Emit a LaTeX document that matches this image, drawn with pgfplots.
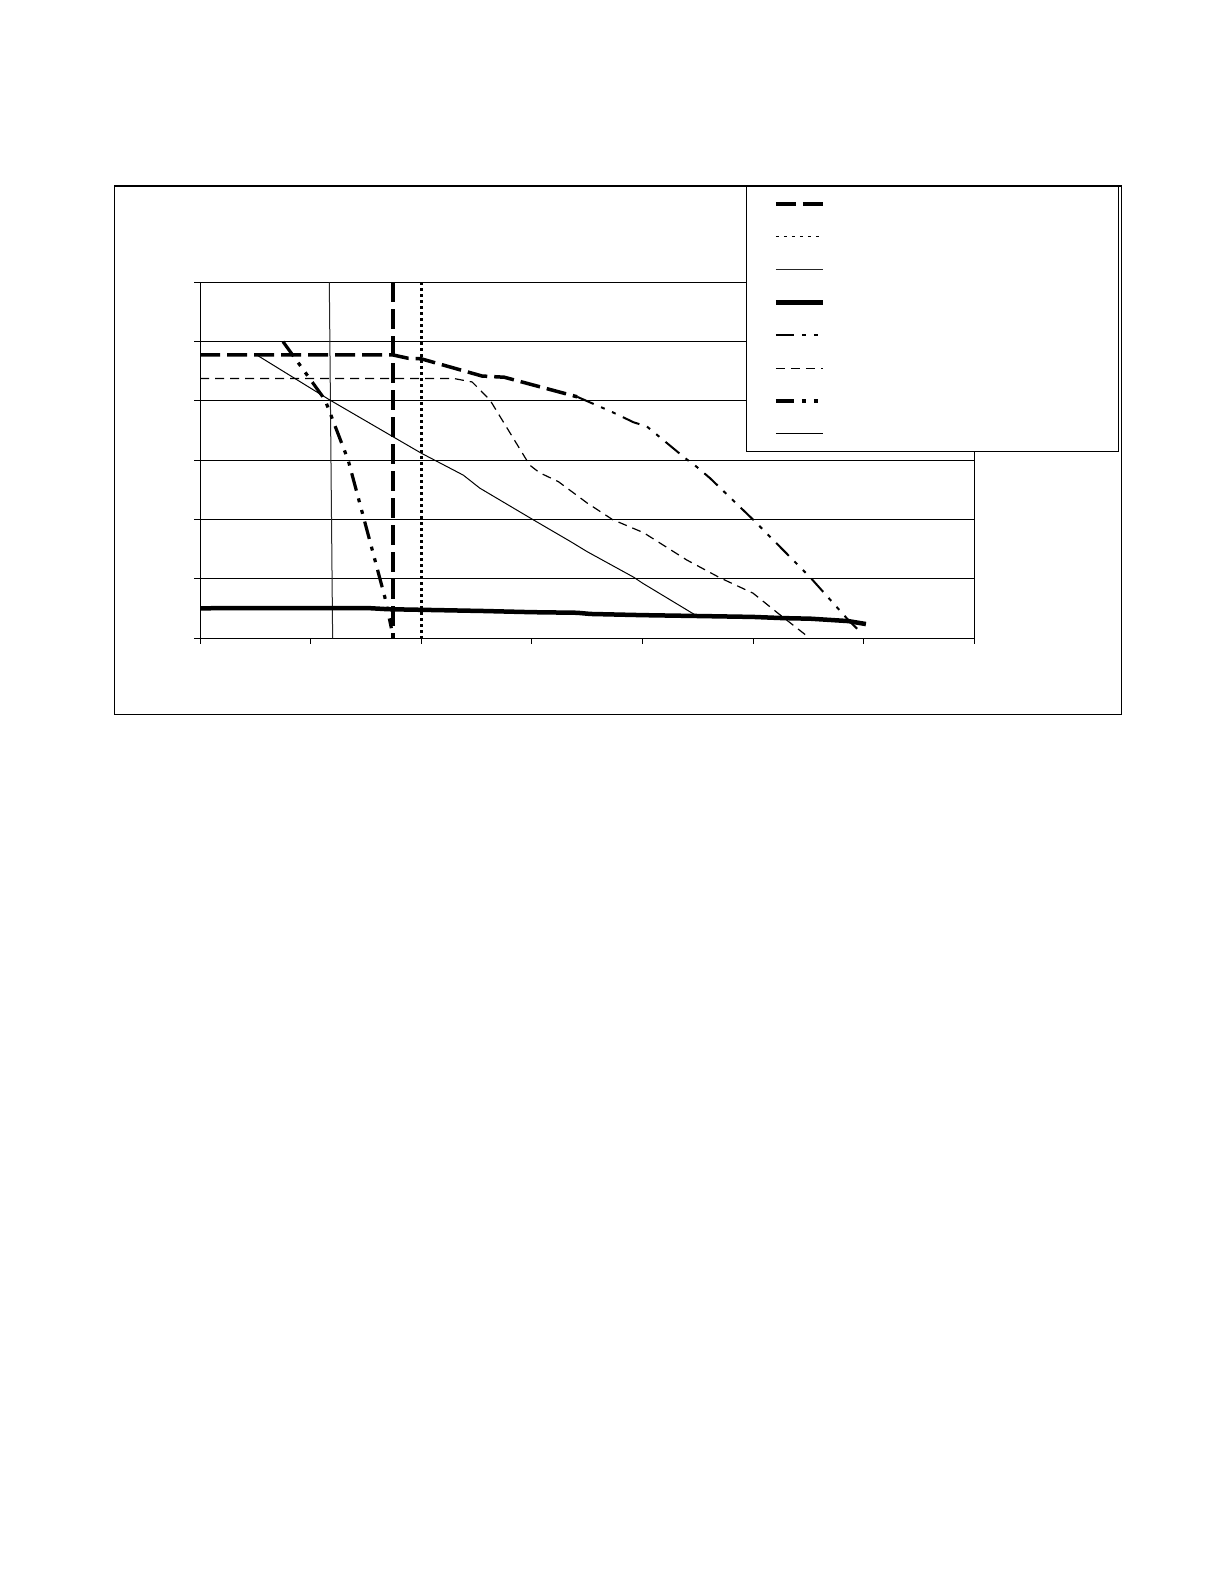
\documentclass[border=0pt]{standalone}
\usepackage{pgfplots}
\pgfplotsset{compat=1.18}

\tikzset{
  heavydash/.style={line width=1.75bp, dash pattern=on 10bp off 3.5bp},
  dashdotdot/.style={dash pattern=on 9bp off 4bp on 2bp off 4bp on 2bp off 4bp},
}

\begin{document}
\begin{tikzpicture}
\path[use as bounding box] (0,0) rectangle (612bp,792bp);
% chart frame
\draw[line width=0.6bp] (57.15bp,434.85bp) rectangle (560.85bp,699bp);

\begin{axis}[
  at={(100bp,472.85bp)}, anchor=south west,
  scale only axis,
  width=387.15bp, height=178bp,
  xmin=0, xmax=7, ymin=0, ymax=6,
  xtick={0,...,7}, ytick={0,...,6},
  xticklabels={}, yticklabels={},
  tick align=outside, tick pos=left,
  major tick length=2.8bp,
  every tick/.style={black, line width=0.5bp},
  axis line style={line width=0.5bp},
  ymajorgrids,
  grid style={black, line width=0.5bp},
  legend image code/.code={\draw[#1] (0bp,0bp) -- (23.5bp,0bp);},
  legend style={
    at={(0.7048,1.2705)}, anchor=north west,
    draw=black, line width=0.6bp, fill=white,
    inner xsep=13.6bp, inner ysep=0.6bp,
    row sep=0pt, column sep=0pt,
    nodes={text width=133bp, minimum height=16.4bp, inner sep=0pt},
  },
  legend cell align=left,
]

% 1: heavy long dash, vertical
\addplot[black, heavydash] coordinates {(1.745,6) (1.745,0)};
\addlegendentry{\mbox{}}

% 2: dotted, vertical
\addplot[black, line width=1.5bp, dash pattern=on 1.5bp off 1.5bp,
  legend image post style={line width=0.5bp, dash pattern=on 1.5bp off 2.5bp}]
  coordinates {(2.0,6) (2.0,0)};
\addlegendentry{\mbox{}}

% 3: thin solid, vertical
\addplot[black!85, line width=0.5bp] coordinates {(1.169,6) (1.199,0)};
\addlegendentry{\mbox{}}

% 4: thick solid baseline
\addplot[black, line width=2.25bp] coordinates {
  (0,0.506) (1.51,0.51) (1.70,0.49) (2.0,0.48) (2.56,0.46) (3.0,0.44)
  (3.41,0.43) (3.53,0.41) (4.0,0.39) (4.48,0.376) (5.0,0.36) (5.27,0.34)
  (5.52,0.33) (5.86,0.29) (6.02,0.24)};
\addlegendentry{\mbox{}}

% 5: dash-dot, medium
\addplot[black, line width=1bp, dashdotdot] coordinates {
  (3.41,4.07) (3.73,3.81) (3.92,3.64) (4.04,3.57) (4.39,3.03) (4.49,2.89)
  (4.61,2.70) (5.0,2.0) (5.52,1.02) (5.86,0.31) (5.99,0.07)};
\addlegendentry{\mbox{}}

% 6: thin dashed
\addplot[black, line width=0.6bp, dash pattern=on 4.5bp off 3bp] coordinates {
  (0,4.38) (2.29,4.38) (2.46,4.32) (2.62,4.02) (2.98,2.92) (3.07,2.79)
  (3.24,2.64) (3.50,2.28) (3.73,2.0) (4.01,1.78) (4.40,1.32) (4.70,1.02)
  (5.0,0.76) (5.22,0.43) (5.50,0.02)};
\addlegendentry{\mbox{}}

% 7: thick dash-dot
\addplot[black, line width=1.6bp, dashdotdot] coordinates {
  (0.75,5.0) (1.13,4.02) (1.34,3.0) (1.54,1.61) (1.67,0.70) (1.73,0.17)};
\addlegendentry{\mbox{}}

% 8: thin solid diagonal
\addplot[black, line width=0.5bp] coordinates {
  (0.50,4.79) (1.17,4.02) (2.0,3.12) (2.38,2.75) (2.53,2.53) (3.01,2.0)
  (3.35,1.63) (3.50,1.46) (3.92,1.03) (4.0,0.93) (4.48,0.39)};
\addlegendentry{\mbox{}}

% heavy dashed upper curve (same style as 1)
\addplot[black, heavydash, forget plot] coordinates {
  (0,4.775) (1.745,4.775) (1.88,4.72) (2.0,4.71) (2.55,4.42) (2.75,4.40)
  (3.41,4.07)};

\end{axis}
\end{tikzpicture}
\end{document}
